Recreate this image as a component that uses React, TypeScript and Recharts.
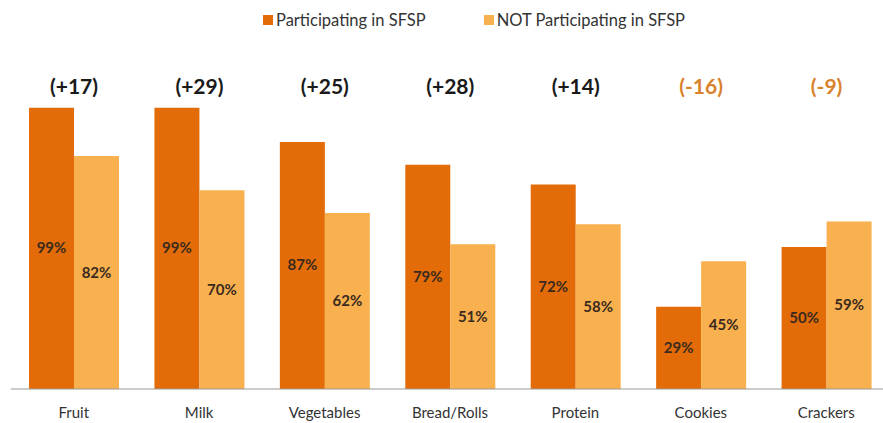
import React from "react";
import { BarChart, Bar, XAxis, YAxis, LabelList } from "recharts";

const categories = ["Fruit", "Milk", "Vegetables", "Bread/Rolls", "Protein", "Cookies", "Crackers"];
const participating = [99, 99, 87, 79, 72, 29, 50];
const notParticipating = [82, 70, 62, 51, 58, 45, 59];
const differences = ["(+17)", "(+29)", "(+25)", "(+28)", "(+14)", "(-16)", "(-9)"];
const seriesNames = ["Participating in SFSP", "NOT Participating in SFSP"];

const DARK = "#E36C09";
const LIGHT = "#F9B04E";
const FONT = "Lato, 'Open Sans', sans-serif";

const data = categories.map((c, i) => ({
  name: c,
  p: participating[i],
  n: notParticipating[i],
  diff: differences[i],
}));

const DiffLabel = (props: any) => {
  const { x, width, value } = props;
  const neg = String(value).startsWith("(-");
  return (
    <text
      x={Number(x) + Number(width)}
      y={94}
      textAnchor="middle"
      fontFamily={FONT}
      fontWeight={700}
      fontSize={21}
      fill={neg ? "#D9822B" : "#1A1A1A"}
    >
      {value}
    </text>
  );
};

const PctLabel = (props: any) => {
  const { x, y, width, height, value } = props;
  return (
    <text
      x={Number(x) + Number(width) / 2}
      y={Number(y) + Number(height) / 2 + 5}
      textAnchor="middle"
      fontFamily={FONT}
      fontWeight={700}
      fontSize={15}
      fill="#3A2A1E"
    >
      {value}%
    </text>
  );
};

export default function App() {
  return (
    <div style={{ position: "absolute", left: 0, top: 0, width: 883, height: 423, overflow: "hidden", background: "#fff" }}>
      <div
        style={{
          position: "absolute",
          top: 10,
          left: 263,
          display: "flex",
          gap: 58,
          fontFamily: FONT,
          fontSize: 16.5,
          color: "#333",
          whiteSpace: "nowrap",
        }}
      >
        {seriesNames.map((s, i) => (
          <div key={s} style={{ display: "flex", alignItems: "center" }}>
            <span style={{ display: "inline-block", width: 10, height: 10, background: i === 0 ? DARK : LIGHT, marginRight: 3 }} />
            <span>{s}</span>
          </div>
        ))}
      </div>
      <BarChart
        width={889}
        height={423}
        data={data}
        margin={{ top: 105, right: 0, left: 11, bottom: 4 }}
        barCategoryGap={18}
        barGap={0}
      >
        <YAxis hide domain={[0, 100]} />
        <XAxis
          dataKey="name"
          height={30}
          tickLine={false}
          axisLine={{ stroke: "#999" }}
          tick={{ fontFamily: FONT, fontSize: 15, fill: "#333" }}
          tickMargin={12}
        />
        <Bar dataKey="p" fill={DARK} isAnimationActive={false} name={seriesNames[0]}>
          <LabelList dataKey="p" content={PctLabel} />
          <LabelList dataKey="diff" content={DiffLabel} />
        </Bar>
        <Bar dataKey="n" fill={LIGHT} isAnimationActive={false} name={seriesNames[1]}>
          <LabelList dataKey="n" content={PctLabel} />
        </Bar>
      </BarChart>
    </div>
  );
}
